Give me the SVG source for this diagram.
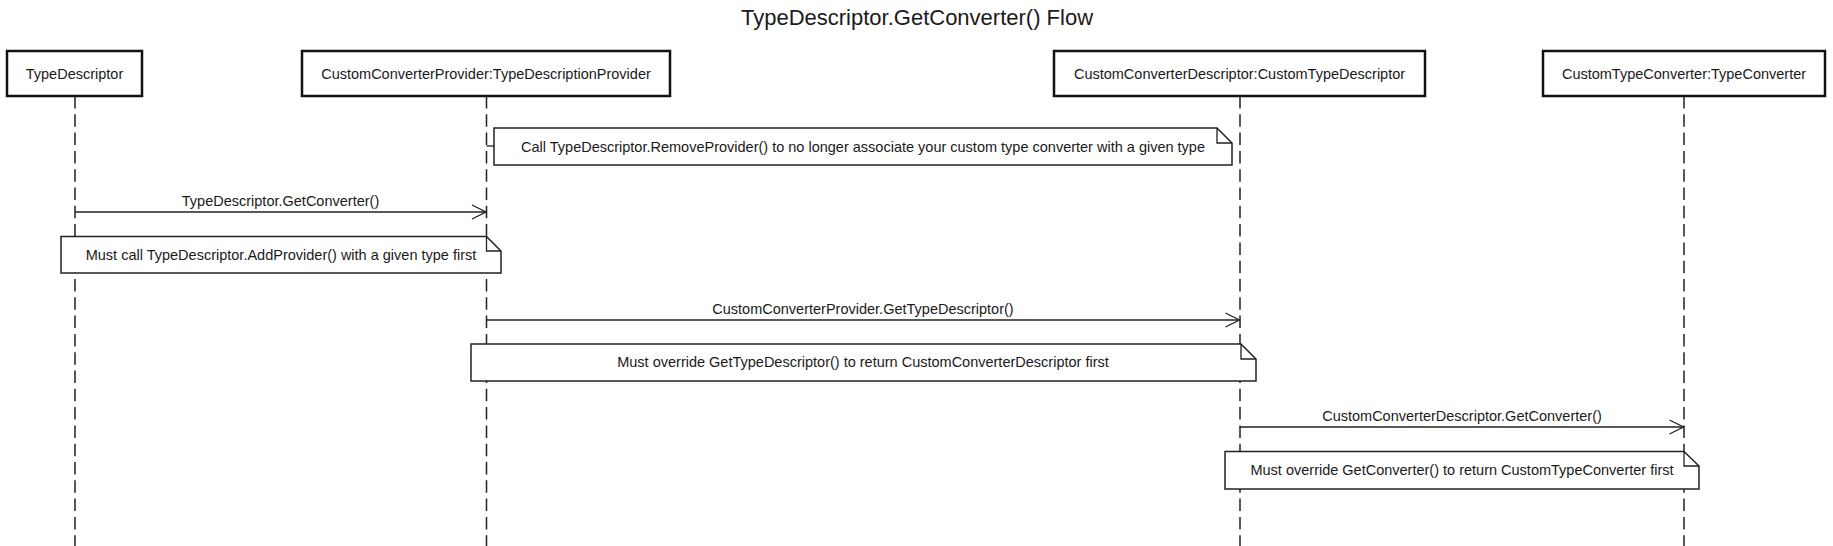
<svg xmlns="http://www.w3.org/2000/svg" width="1833" height="546" viewBox="0 0 1833 546">
<defs>
<style>
text{font-family:"Liberation Sans",Arial,sans-serif;fill:#1a1a1a}
.t{font-size:22px;text-anchor:middle}
.l{font-size:14.5px;text-anchor:middle}
.box{fill:#fff;stroke:#111;stroke-width:2.5}
.life{stroke:#222;stroke-width:1.5;stroke-dasharray:12.5 5.8;fill:none}
.msg{stroke:#222;stroke-width:1.3;fill:none}
.note{fill:#fff;stroke:#222;stroke-width:1.5}
.fold{fill:none;stroke:#222;stroke-width:1.3}
</style>
</defs>
<rect width="1833" height="546" fill="#fff"/>
<text class="t" x="917" y="25">TypeDescriptor.GetConverter() Flow</text>

<g id="lifelines">
<line class="life" x1="75" y1="96" x2="75" y2="546"/>
<line class="life" x1="486.5" y1="96" x2="486.5" y2="546"/>
<line class="life" x1="1240" y1="96" x2="1240" y2="546"/>
<line class="life" x1="1684" y1="96" x2="1684" y2="546"/>
</g>

<g id="node-typedescriptor">
<rect class="box" x="7" y="51" width="135" height="45"/>
<text class="l" x="74.5" y="78.5">TypeDescriptor</text>
</g>
<g id="node-provider">
<rect class="box" x="302" y="51" width="368" height="45"/>
<text class="l" x="486" y="78.5">CustomConverterProvider:TypeDescriptionProvider</text>
</g>
<g id="node-descriptor">
<rect class="box" x="1054" y="51" width="371" height="45"/>
<text class="l" x="1239.5" y="78.5">CustomConverterDescriptor:CustomTypeDescriptor</text>
</g>
<g id="node-converter">
<rect class="box" x="1543" y="51" width="282" height="45"/>
<text class="l" x="1684" y="78.5">CustomTypeConverter:TypeConverter</text>
</g>

<g id="connectors">
<line class="msg" x1="486.5" y1="146" x2="494" y2="146"/>
<line class="msg" x1="75" y1="212" x2="486" y2="212"/>
<polyline class="msg" points="472,205 486,212 472,219"/>
<line class="msg" x1="486.5" y1="320" x2="1239.5" y2="320"/>
<polyline class="msg" points="1225.5,313 1239.5,320 1225.5,327"/>
<line class="msg" x1="1240" y1="427" x2="1683.5" y2="427"/>
<polyline class="msg" points="1669.5,420 1683.5,427 1669.5,434"/>
<text class="l" x="280.5" y="205.5">TypeDescriptor.GetConverter()</text>
<text class="l" x="863" y="313.5">CustomConverterProvider.GetTypeDescriptor()</text>
<text class="l" x="1462" y="420.5">CustomConverterDescriptor.GetConverter()</text>
</g>

<g id="note-remove">
<path class="note" d="M494,128 H1217 L1232,143 V165 H494 Z"/>
<path class="fold" d="M1217,128 V143 H1232"/>
<text class="l" x="863" y="151.5">Call TypeDescriptor.RemoveProvider() to no longer associate your custom type converter with a given type</text>
</g>
<g id="note-addprovider">
<path class="note" d="M61,236.5 H486.5 L501,251 V273 H61 Z"/>
<path class="fold" d="M486.5,236.5 V251 H501"/>
<text class="l" x="281" y="259.5">Must call TypeDescriptor.AddProvider() with a given type first</text>
</g>
<g id="note-gettypedescriptor">
<path class="note" d="M471,344 H1241 L1256,359 V381 H471 Z"/>
<path class="fold" d="M1241,344 V359 H1256"/>
<text class="l" x="863" y="367">Must override GetTypeDescriptor() to return CustomConverterDescriptor first</text>
</g>
<g id="note-getconverter">
<path class="note" d="M1225,451.5 H1684 L1699,466 V489 H1225 Z"/>
<path class="fold" d="M1684,451.5 V466 H1699"/>
<text class="l" x="1462" y="475">Must override GetConverter() to return CustomTypeConverter first</text>
</g>
</svg>
